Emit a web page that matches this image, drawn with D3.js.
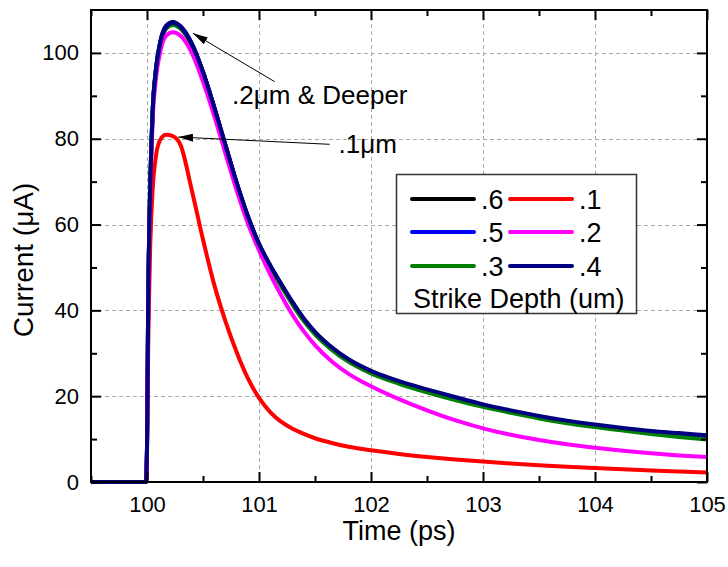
<!DOCTYPE html>
<html>
<head>
<meta charset="utf-8">
<script src="https://cdn.jsdelivr.net/npm/d3@7"></script>
<style>
  html, body { margin: 0; padding: 0; background: #fff; }
  svg { display: block; font-family: "Liberation Sans", Arial, sans-serif; }
</style>
</head>
<body>
<svg id="chart" width="728" height="567"></svg>
<script>
// Transient current after a strike, for several strike depths (um)
const timePs = [99.5, 99.99, 100.0, 100.01, 100.03, 100.05, 100.08, 100.12, 100.17, 100.23, 100.3, 100.4, 100.5, 100.6, 100.7, 100.8, 100.9, 101.0, 101.1, 101.2, 101.3, 101.4, 101.5, 101.65, 101.8, 102.0, 102.25, 102.5, 102.75, 103.0, 103.25, 103.5, 103.75, 104.0, 104.25, 104.5, 104.75, 105.0];

const depth06 = [0, 0, 8, 40.4, 70.4, 86.4, 96.4, 102.8, 106.3, 107.2, 106.2, 102.2, 95.6, 87.4, 78.6, 69.8, 62.0, 55.5, 50.4, 46.0, 41.8, 38.0, 34.9, 31.3, 28.5, 25.8, 23.4, 21.4, 19.6, 17.9, 16.5, 15.2, 14.1, 13.2, 12.4, 11.7, 11.2, 10.7];
const depth05 = [0, 0, 8, 40.2, 70.2, 86.2, 96.2, 102.7, 106.2, 107.1, 106.1, 102.1, 95.5, 87.3, 78.5, 69.7, 61.9, 55.4, 50.4, 45.9, 41.7, 37.9, 34.8, 31.2, 28.4, 25.7, 23.3, 21.3, 19.5, 17.8, 16.4, 15.1, 14.0, 13.1, 12.3, 11.6, 11.0, 10.5];
const depth03 = [0, 0, 8, 39.8, 69.8, 85.8, 95.8, 102.2, 105.6, 106.5, 105.6, 101.7, 95.1, 86.9, 78.1, 69.3, 61.5, 55.0, 49.9, 45.5, 41.3, 37.5, 34.4, 30.8, 28.0, 25.3, 22.9, 20.9, 19.1, 17.5, 16.1, 14.8, 13.7, 12.8, 12.0, 11.2, 10.5, 9.9];
const depth01 = [0, 0, 6, 30, 56, 68, 76, 79.8, 80.9, 80.6, 78.5, 68, 56.5, 46, 37.5, 30.3, 24.2, 19.6, 16.3, 14.0, 12.4, 11.2, 10.2, 9.1, 8.2, 7.4, 6.55, 5.85, 5.25, 4.75, 4.3, 3.9, 3.55, 3.25, 2.95, 2.7, 2.45, 2.2];
const depth02 = [0, 0, 8, 39, 68, 84, 94, 100.5, 104, 104.8, 104, 100, 93.3, 85.3, 76.6, 68, 60.3, 54, 48.4, 43.4, 38.9, 35.1, 31.9, 28.1, 25.2, 22.3, 19.3, 16.7, 14.4, 12.5, 11.0, 9.8, 8.8, 8.0, 7.3, 6.7, 6.2, 5.8];
const depth04 = [0, 0, 8, 40, 70, 86, 96, 102.5, 106, 107, 106, 102, 95.5, 87.3, 78.5, 69.8, 62, 55.5, 50.5, 46.1, 41.9, 38.1, 35.0, 31.4, 28.6, 25.9, 23.5, 21.6, 19.8, 18.1, 16.7, 15.4, 14.3, 13.4, 12.6, 11.9, 11.4, 10.9];

// Legend order (two columns, row by row) and drawing order
const seriesNames = [".6", ".5", ".3", ".1", ".2", ".4"];
const seriesValues = [depth06, depth05, depth03, depth01, depth02, depth04];
const seriesColors = ["#000000", "#0000ff", "#008000", "#ff0000", "#ff00ff", "#000080"];
const legendRows = [[".6", ".1"], [".5", ".2"], [".3", ".4"]];

const xMajorTicks = [100, 101, 102, 103, 104, 105];
const xMinorTicks = [99.5, 100.5, 101.5, 102.5, 103.5, 104.5];
const yMajorTicks = [0, 20, 40, 60, 80, 100];
const yMinorTicks = [10, 30, 50, 70, 90];

// Annotations: text anchor and arrow (tail -> tip) in data units
const notes = [
  { text: ".2\u03BCm & Deeper", tx: 100.76, ty: 88.2, from: [101.14, 93.3], to: [100.41, 104.6] },
  { text: ".1\u03BCm", tx: 101.71, ty: 76.6, from: [101.63, 78.7], to: [100.28, 80.4] }
];

const svg = d3.select("#chart");
const plotLeft = 91, plotRight = 707, plotTop = 10, plotBottom = 482;

const x = d3.scaleLinear().domain([99.5, 105]).range([plotLeft, plotRight]);
const y = d3.scaleLinear().domain([0, 110]).range([plotBottom, plotTop]);

// grid
const grid = svg.append("g").attr("stroke", "#a8a8a8").attr("stroke-width", 1).attr("stroke-dasharray", "4,3");
grid.selectAll("line.gx").data(xMajorTicks.filter(d => d < 105)).join("line")
  .attr("x1", d => Math.round(x(d)) + 0.5).attr("x2", d => Math.round(x(d)) + 0.5)
  .attr("y1", plotTop).attr("y2", plotBottom);
grid.selectAll("line.gy").data(yMajorTicks.filter(d => d > 0)).join("line")
  .attr("y1", d => Math.round(y(d)) + 0.5).attr("y2", d => Math.round(y(d)) + 0.5)
  .attr("x1", plotLeft).attr("x2", plotRight);

// curves
svg.append("clipPath").attr("id", "plotclip").append("rect")
  .attr("x", plotLeft).attr("y", plotTop - 2).attr("width", plotRight - plotLeft).attr("height", plotBottom - plotTop + 4);

const line = d3.line().curve(d3.curveMonotoneX).x(d => x(d[0])).y(d => y(d[1]));
const curves = svg.append("g").attr("clip-path", "url(#plotclip)");
seriesValues.forEach((vals, i) => {
  curves.append("path")
    .datum(timePs.map((t, k) => [t, vals[k]]))
    .attr("fill", "none")
    .attr("stroke", seriesColors[i])
    .attr("stroke-width", 4)
    .attr("stroke-linejoin", "round")
    .attr("d", line);
});

// axes: ticks inward on all four sides
function axisGroup(axis, tx, ty) {
  const g = svg.append("g").attr("transform", `translate(${tx},${ty})`).call(axis);
  g.select(".domain").remove();
  g.selectAll("line").attr("stroke", "#000").attr("stroke-width", 2);
  g.selectAll("text").attr("font-size", 22).attr("fill", "#000").attr("font-family", "Liberation Sans, Arial, sans-serif");
  return g;
}
// bottom
axisGroup(d3.axisTop(x).tickValues(xMajorTicks).tickSize(10).tickFormat(""), 0, plotBottom);
axisGroup(d3.axisTop(x).tickValues(xMinorTicks).tickSize(6).tickFormat(""), 0, plotBottom);
axisGroup(d3.axisBottom(x).tickValues(xMajorTicks).tickSize(0).tickPadding(14).tickFormat(d3.format("d")), 0, plotBottom);
// top
axisGroup(d3.axisBottom(x).tickValues(xMajorTicks).tickSize(10).tickFormat(""), 0, plotTop);
axisGroup(d3.axisBottom(x).tickValues(xMinorTicks).tickSize(6).tickFormat(""), 0, plotTop);
// left
axisGroup(d3.axisRight(y).tickValues(yMajorTicks).tickSize(10).tickFormat(""), plotLeft, 0);
axisGroup(d3.axisRight(y).tickValues(yMinorTicks).tickSize(6).tickFormat(""), plotLeft, 0);
axisGroup(d3.axisLeft(y).tickValues(yMajorTicks).tickSize(0).tickPadding(12).tickFormat(d3.format("d")), plotLeft, 0);
// right
axisGroup(d3.axisLeft(y).tickValues(yMajorTicks).tickSize(10).tickFormat(""), plotRight, 0);
axisGroup(d3.axisLeft(y).tickValues(yMinorTicks).tickSize(6).tickFormat(""), plotRight, 0);

// frame
svg.append("rect").attr("x", plotLeft).attr("y", plotTop).attr("width", plotRight - plotLeft).attr("height", plotBottom - plotTop)
  .attr("fill", "none").attr("stroke", "#000").attr("stroke-width", 2);

// axis titles
svg.append("text").attr("x", (plotLeft + plotRight) / 2).attr("y", 540).attr("text-anchor", "middle")
  .attr("font-size", 27).text("Time (ps)");
svg.append("text").attr("transform", "translate(33,260) rotate(-90)").attr("text-anchor", "middle")
  .attr("font-size", 28).text("Current (\u03BCA)");

// annotations
svg.append("defs").append("marker").attr("id", "arrowhead")
  .attr("viewBox", "0 0 15 8").attr("refX", 15).attr("refY", 4)
  .attr("markerWidth", 15).attr("markerHeight", 8).attr("markerUnits", "userSpaceOnUse")
  .attr("orient", "auto")
  .append("path").attr("d", "M0,0 L15,4 L0,8 Z").attr("fill", "#000");
notes.forEach(n => {
  svg.append("line")
    .attr("x1", x(n.from[0])).attr("y1", y(n.from[1]))
    .attr("x2", x(n.to[0])).attr("y2", y(n.to[1]))
    .attr("stroke", "#000").attr("stroke-width", 1)
    .attr("marker-end", "url(#arrowhead)");
  svg.append("text").attr("x", x(n.tx)).attr("y", y(n.ty)).attr("font-size", 26).text(n.text);
});

// legend
const lg = svg.append("g");
lg.append("rect").attr("x", 396.5).attr("y", 174.5).attr("width", 240).attr("height", 139)
  .attr("fill", "#fff").attr("stroke", "#333").attr("stroke-width", 1.5);
const rowY = [199, 232, 266];
const colX = [412, 510];
legendRows.forEach((row, r) => {
  row.forEach((name, c) => {
    const i = seriesNames.indexOf(name);
    lg.append("line").attr("x1", colX[c]).attr("x2", colX[c] + 62)
      .attr("y1", rowY[r]).attr("y2", rowY[r])
      .attr("stroke", seriesColors[i]).attr("stroke-width", 4).attr("stroke-linecap", "round");
    lg.append("text").attr("x", colX[c] + 69).attr("y", rowY[r] + 9.5).attr("font-size", 27).text(name);
  });
});
lg.append("text").attr("x", 413).attr("y", 308).attr("font-size", 27).text("Strike Depth (um)");
</script>
</body>
</html>
